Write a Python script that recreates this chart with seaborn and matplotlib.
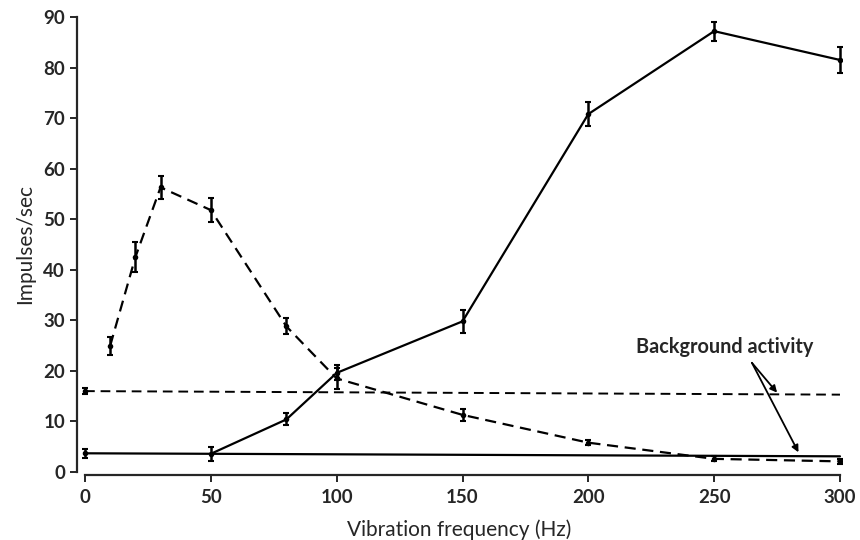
import pandas as pd
import numpy as np
import matplotlib
matplotlib.use("Agg")
import matplotlib.pyplot as plt
import seaborn as sns

# Data
freq_low = [10, 20, 30, 50, 80, 100, 150, 200, 250, 300]
rate_low = [25, 42.5, 56.3, 51.8, 28.8, 18.5, 11.3, 5.8, 2.6, 2.1]
err_low = [1.8, 3.0, 2.3, 2.3, 1.6, 2.0, 1.2, 0.5, 0.5, 0.5]

freq_high = [50, 80, 100, 150, 200, 250, 300]
rate_high = [3.6, 10.4, 19.6, 29.8, 70.8, 87.2, 81.5]
err_high = [1.4, 1.2, 1.5, 2.3, 2.4, 1.9, 2.5]

bg_freq = [0, 300]
bg_low = [16.0, 15.3]
bg_high = [3.7, 3.1]
bg_err_low = 0.6
bg_err_high = 0.9

low = pd.DataFrame({"freq": freq_low, "rate": rate_low, "err": err_low})
high = pd.DataFrame({"freq": freq_high, "rate": rate_high, "err": err_high})

sns.set_style("ticks")
plt.rcParams['font.family'] = ['Lato', 'DejaVu Sans']

fig = plt.figure(figsize=(8.6, 5.4), dpi=100)
ax = fig.add_axes([77 / 860, 1 - 472 / 540, (842 - 77) / 860, (472 - 17) / 540])

lw = 1.6
# responses
sns.lineplot(data=low, x="freq", y="rate", ax=ax, color="black", lw=lw,
             linestyle=(0, (5, 3)), marker="o", markersize=4, markeredgewidth=0)
ax.errorbar(low["freq"], low["rate"], yerr=low["err"], fmt="none",
            ecolor="black", elinewidth=1.8, capsize=2.5, capthick=1.5)
sns.lineplot(data=high, x="freq", y="rate", ax=ax, color="black", lw=lw,
             marker="o", markersize=4, markeredgewidth=0)
ax.errorbar(high["freq"], high["rate"], yerr=high["err"], fmt="none",
            ecolor="black", elinewidth=1.8, capsize=2.5, capthick=1.5)

# background activity
sns.lineplot(x=bg_freq, y=bg_low, ax=ax, color="black", lw=1.4, linestyle=(0, (5, 3)))
sns.lineplot(x=bg_freq, y=bg_high, ax=ax, color="black", lw=1.6)
ax.errorbar([0], [bg_low[0]], yerr=[bg_err_low], fmt="o", ms=3, color="black",
            elinewidth=1.8, capsize=2.5, capthick=1.5)
ax.errorbar([0], [bg_high[0]], yerr=[bg_err_high], fmt="o", ms=3, color="black",
            elinewidth=1.8, capsize=2.5, capthick=1.5)

ax.text(254, 23.6, "Background activity", fontsize=14.3, fontweight="bold",
        ha="center", va="baseline")
ax.annotate("", xy=(275, 15.7), xytext=(265, 21.6),
            arrowprops=dict(arrowstyle="-|>", color="black", lw=1.3,
                            mutation_scale=10, shrinkA=0, shrinkB=0))
ax.annotate("", xy=(283.5, 3.9), xytext=(265, 21.6),
            arrowprops=dict(arrowstyle="-|>", color="black", lw=1.3,
                            mutation_scale=10, shrinkA=0, shrinkB=0))

ax.set_xlim(-3.2, 300.8)
ax.set_ylim(0, 90)
ax.set_xticks(np.arange(0, 301, 50))
ax.set_yticks(np.arange(0, 91, 10))
ax.spines['top'].set_visible(False)
ax.spines['right'].set_visible(False)
ax.spines['bottom'].set_bounds(0, 300)
ax.spines['bottom'].set_position(('outward', 2))
ax.spines['left'].set_linewidth(1.6)
ax.spines['bottom'].set_linewidth(1.6)
ax.tick_params(axis='both', width=1.4, length=5, labelsize=13.5)
ax.tick_params(axis='x', pad=5)
for lab in ax.get_xticklabels() + ax.get_yticklabels():
    lab.set_fontweight("bold")

ax.set_xlabel("Vibration frequency (Hz)", fontsize=15, labelpad=10)
ax.set_ylabel("Impulses/sec", fontsize=15, labelpad=6)

plt.savefig("out.png", dpi=100)
